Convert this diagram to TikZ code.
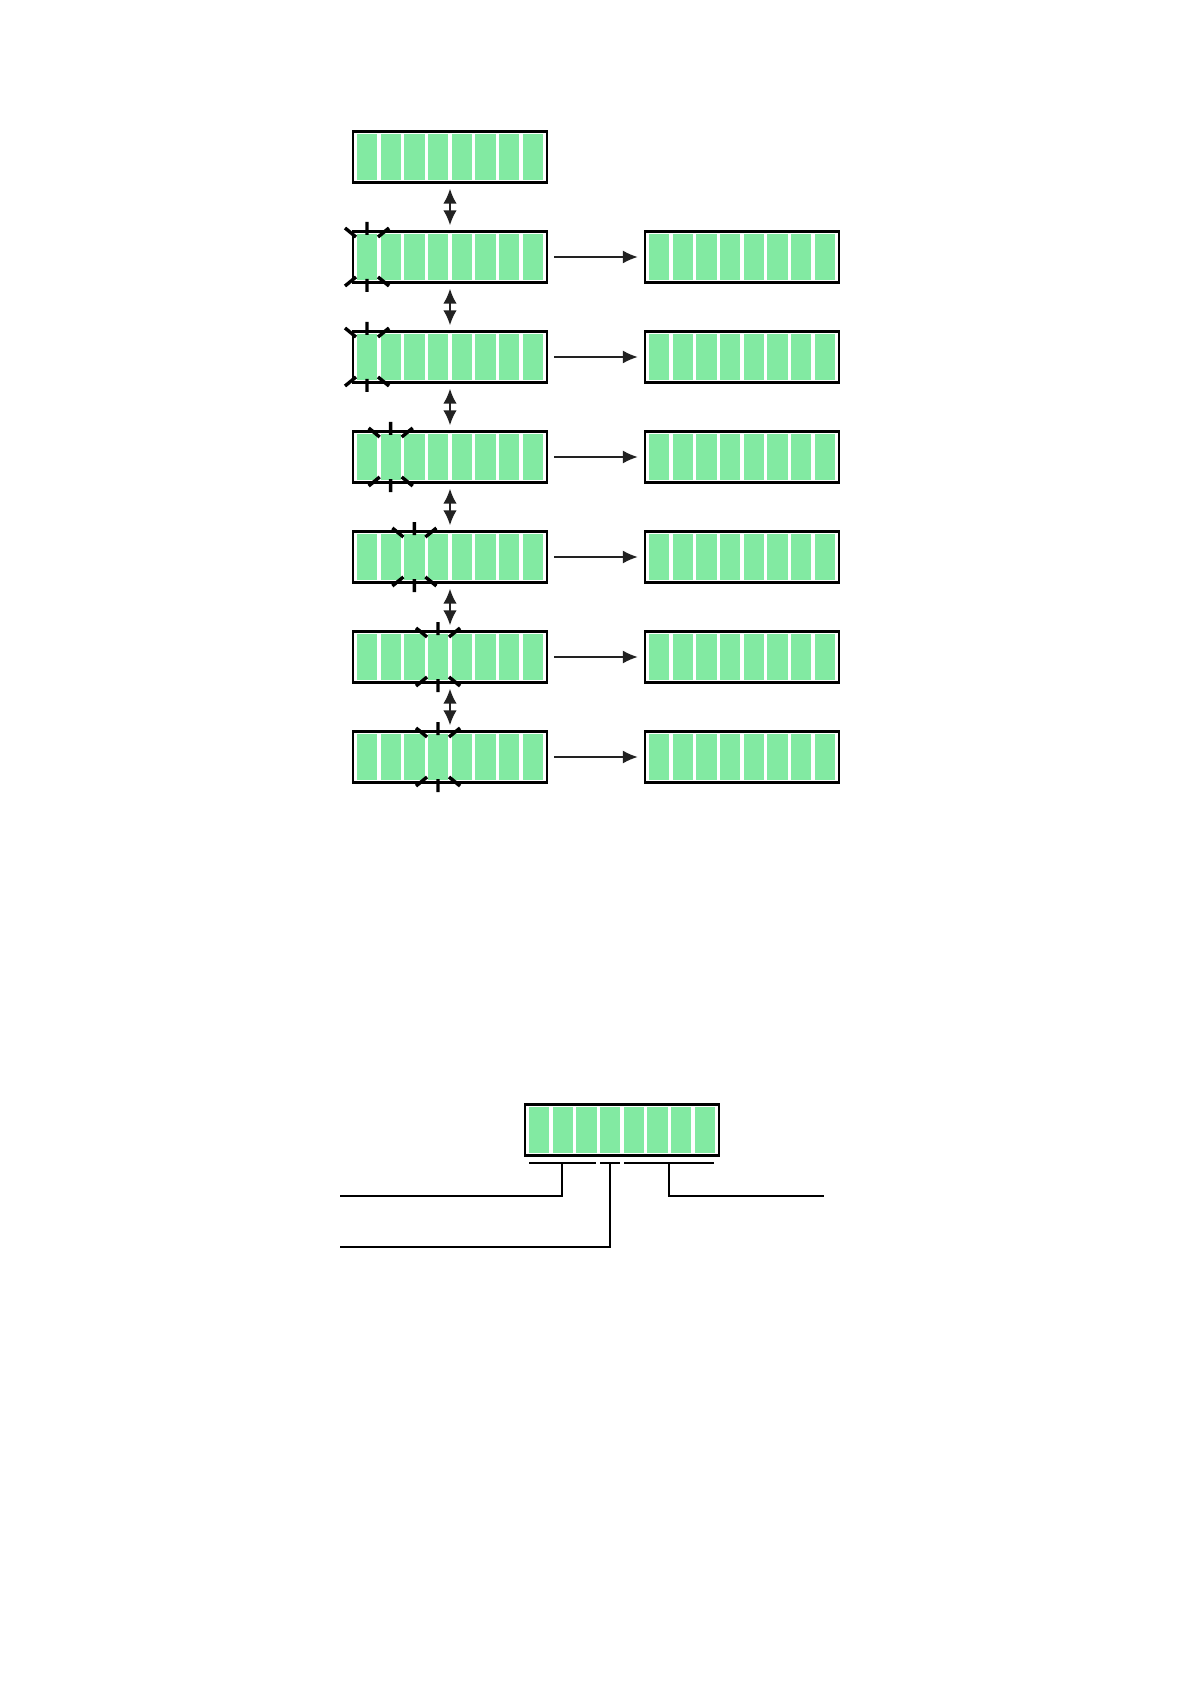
\documentclass[tikz,border=0pt]{standalone}
\usepackage{xcolor}
\usepackage{tikz}
\usetikzlibrary{arrows.meta,calc}
\definecolor{cellgreen}{HTML}{82EAA2}
\definecolor{arrowdark}{HTML}{222222}

\begin{document}
\begin{tikzpicture}[
    x=0.5pt,y=-0.5pt,
    reg/.style  = {rectangle,draw=black,line width=1.2pt,fill=white,inner sep=0pt,
                   minimum width=97pt,minimum height=25.5pt,
                   path picture={
                     \foreach \k in {0,...,7}
                       \fill[cellgreen]
                         ($(path picture bounding box.north west)+(2pt+\k*11.84pt,-1.25pt)$)
                         rectangle ++(10.1pt,-23pt);
                   }},
    dbl/.style  = {{Latex[length=7.5pt,width=6.8pt]}-{Latex[length=7.5pt,width=6.8pt]},
                   arrowdark,line width=1pt,shorten <=2.5pt,shorten >=2.5pt},
    fl/.style   = {-{Latex[length=7.5pt,width=6.5pt]},arrowdark,line width=0.75pt,
                   shorten <=3pt,shorten >=3pt},
    lead/.style = {black,line width=1.1pt},
    burst/.pic  = {
      \draw[line width=1.7pt] (0,-35) -- (0,-22) (0,22) -- (0,35)
        (-22,-29) -- (-11,-20) (11,-20) -- (22,-29)
        (-22,29) -- (-11,20) (11,20) -- (22,29);
    },
  ]

  \useasboundingbox (0,0) rectangle (1190,1684);

  \node[reg] (r1) at (450,157) {};
  \node[reg] (r2) at (450,257) {};
  \node[reg] (r3) at (450,357) {};
  \node[reg] (r4) at (450,457) {};
  \node[reg] (r5) at (450,557) {};
  \node[reg] (r6) at (450,657) {};
  \node[reg] (r7) at (450,757) {};

  \node[reg] (s2) at (742,257) {};
  \node[reg] (s3) at (742,357) {};
  \node[reg] (s4) at (742,457) {};
  \node[reg] (s5) at (742,557) {};
  \node[reg] (s6) at (742,657) {};
  \node[reg] (s7) at (742,757) {};

  \pic at ($(r2.west)+(7.6pt,0)$) {burst};
  \pic at ($(r3.west)+(7.6pt,0)$) {burst};
  \pic at ($(r4.west)+(7.6pt+11.84pt,0)$) {burst};
  \pic at ($(r5.west)+(7.6pt+2*11.84pt,0)$) {burst};
  \pic at ($(r6.west)+(7.6pt+3*11.84pt,0)$) {burst};
  \pic at ($(r7.west)+(7.6pt+3*11.84pt,0)$) {burst};

  \draw[dbl] (r1) -- (r2);
  \draw[dbl] (r2) -- (r3);
  \draw[dbl] (r3) -- (r4);
  \draw[dbl] (r4) -- (r5);
  \draw[dbl] (r5) -- (r6);
  \draw[dbl] (r6) -- (r7);

  \draw[fl] (r2) -- (s2);
  \draw[fl] (r3) -- (s3);
  \draw[fl] (r4) -- (s4);
  \draw[fl] (r5) -- (s5);
  \draw[fl] (r6) -- (s6);
  \draw[fl] (r7) -- (s7);

  \node[reg] (fmt) at (622,1130) {};

  \draw[lead] (529,1163) -- (596,1163);
  \draw[lead] (600,1163) -- (620,1163);
  \draw[lead] (624,1163) -- (714,1163);

  \coordinate (grpA) at (562,1163);
  \coordinate (grpB) at (610,1163);
  \coordinate (grpC) at (669,1163);
  \coordinate (endA) at (340,1196);
  \coordinate (endB) at (340,1247);
  \coordinate (endC) at (824,1196);

  \draw[lead] (grpA) |- (endA);
  \draw[lead] (grpB) |- (endB);
  \draw[lead] (grpC) |- (endC);

\end{tikzpicture}
\end{document}
